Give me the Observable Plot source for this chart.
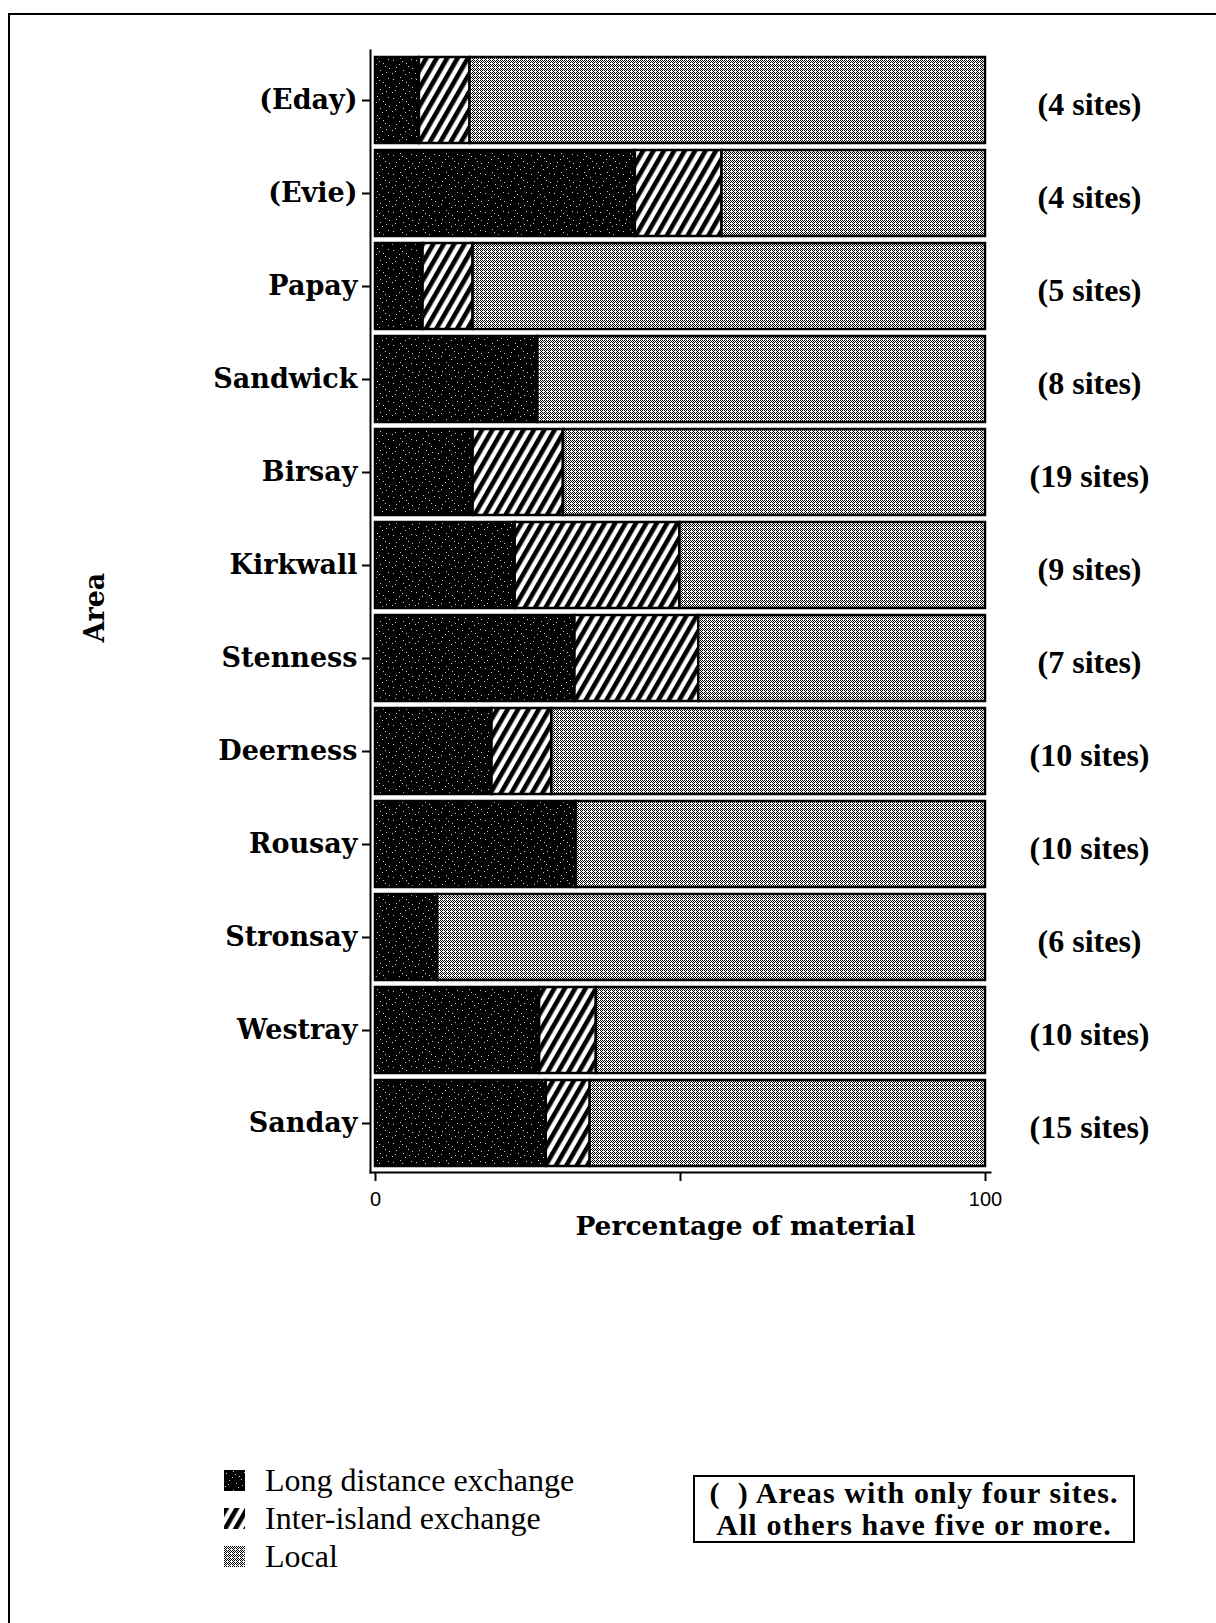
<!DOCTYPE html>
<html>
<head>
<meta charset="utf-8">
<script src="https://cdn.jsdelivr.net/npm/d3@7"></script>
<script src="https://cdn.jsdelivr.net/npm/@observablehq/plot@0.6"></script>
<style>
html, body { margin: 0; padding: 0; background: #fff; }
#page { position: relative; width: 1216px; height: 1623px; overflow: hidden; background: #fff; }
#border { position: absolute; left: 8px; top: 13px; right: -20px; bottom: -20px; border-top: 2px solid #000; border-left: 2px solid #000; pointer-events: none; }
#chart { position: absolute; left: 0; top: 0; }
#legend { position: absolute; left: 224px; top: 1461px; }
#note { position: absolute; left: 693px; top: 1475px; width: 438px; height: 64px; border: 2px solid #000;
  font-family: "Liberation Serif", serif; font-weight: bold; font-size: 30px; line-height: 32px; letter-spacing: 1.1px;
  text-align: center; color: #000; white-space: nowrap; }
.lg-swatches { margin: 0 !important; font-family: "Liberation Serif", serif !important; font-size: 32px !important; color: #000; }
.lg-swatch { line-height: 38px !important; height: 38px; margin: 0 !important; padding: 0 !important; display: flex; align-items: center; }
.lg-swatch > svg { margin-right: 20px !important; }
</style>
</head>
<body>
<div id="page">
  <div id="chart"></div>
  <div id="legend"></div>
  <div id="note">(&nbsp;&nbsp;) Areas with only four sites.<br>All others have five or more.</div>
  <div id="border"></div>
</div>
<script>
// ---- data ----
const areas = ["(Eday)", "(Evie)", "Papay", "Sandwick", "Birsay", "Kirkwall", "Stenness", "Deerness", "Rousay", "Stronsay", "Westray", "Sanday"];
const siteLabels = ["(4 sites)", "(4 sites)", "(5 sites)", "(8 sites)", "(19 sites)", "(9 sites)", "(7 sites)", "(10 sites)", "(10 sites)", "(6 sites)", "(10 sites)", "(15 sites)"];
const types = ["Long distance exchange", "Inter-island exchange", "Local"];
const longDistance = [7.2, 42.6, 7.8, 26.6, 16.0, 22.9, 32.7, 19.1, 32.9, 10.2, 26.9, 28.0];
const interIsland  = [8.3, 14.2, 8.2, 0, 14.8, 27.0, 20.3, 9.8, 0, 0, 9.3, 7.2];
const local        = [84.5, 43.2, 84.0, 73.4, 69.2, 50.1, 47.0, 71.1, 67.1, 89.8, 63.8, 64.8];
const xTicks = [0, 50, 100];
const xTickLabels = ["0", "", "100"];
const xLabel = "Percentage of material";
const yLabel = "Area";

const series = [longDistance, interIsland, local];
const table = areas.flatMap((a, i) => types.map((t, k) => ({area: a, type: t, value: series[k][i]})))
  .filter(d => d.value > 0);
const siteTable = areas.map((a, i) => ({area: a, label: siteLabels[i]}));
const patterns = ["url(#pLong)", "url(#pInter)", "url(#pLocal)"];

const serifBold = {fontFamily: "DejaVu Serif", fontWeight: "bold"};

const chart = Plot.plot({
  width: 1216,
  height: 1270,
  marginLeft: 370,
  marginRight: 226,
  marginTop: 50,
  marginBottom: 98,
  style: {background: "transparent", color: "#000"},
  x: {domain: [0, 100], range: [375, 985]},
  y: {domain: areas, range: [55, 1167], paddingInner: 0.08, paddingOuter: 0, align: 0.5},
  color: {type: "ordinal", domain: types, range: patterns},
  marks: [
    Plot.barX(table, Plot.stackX({x: "value", y: "area", fill: "type", order: types, stroke: "#000", strokeWidth: 2.5})),
    Plot.frame({anchor: "left", stroke: "#000", strokeWidth: 2}),
    Plot.frame({anchor: "bottom", stroke: "#000", strokeWidth: 2}),
    Plot.axisY({tickSize: 8, tickPadding: 5, fontSize: 27, ...serifBold, label: null, strokeWidth: 2}),
    Plot.axisX({ticks: xTicks, tickFormat: (d) => xTickLabels[xTicks.indexOf(d)], tickSize: 9, tickPadding: 10,
      fontSize: 20, fontFamily: "Liberation Sans", label: null, strokeWidth: 2}),
    Plot.text(siteTable, {x: 100, y: "area", text: "label", dx: 104, dy: 4, textAnchor: "middle",
      fontSize: 32, fontFamily: "Liberation Serif", fontWeight: "bold"}),
    Plot.text([yLabel], {frameAnchor: "left", dx: -275, dy: 31, rotate: -90, fontSize: 27, ...serifBold}),
    Plot.text([xLabel], {frameAnchor: "bottom", dx: 65, dy: 62, fontSize: 26.5, ...serifBold})
  ]
});
document.getElementById("chart").appendChild(chart);

// pattern definitions used by the fill scale
const defs = d3.select(chart).insert("defs", ":first-child");
// long distance: black with white speckles
const pl = defs.append("pattern").attr("id", "pLong").attr("patternUnits", "userSpaceOnUse")
  .attr("width", 23).attr("height", 19);
pl.append("rect").attr("width", 23).attr("height", 19).attr("fill", "#000");
[[2,3],[9,1],[15,6],[20,2],[5,10],[12,13],[18,15],[1,16],[8,7],[21,11],[14,17],[4,14],[11,4],[17,9]].forEach(([x, y]) =>
  pl.append("rect").attr("x", x).attr("y", y).attr("width", 1).attr("height", 1).attr("fill", "#fff").attr("opacity", 0.8));
// inter-island: diagonal hatching
const ph = defs.append("pattern").attr("id", "pInter").attr("patternUnits", "userSpaceOnUse")
  .attr("width", 9).attr("height", 9).attr("patternTransform", "rotate(30)");
ph.append("rect").attr("width", 9).attr("height", 9).attr("fill", "#fff");
ph.append("rect").attr("width", 4.6).attr("height", 9).attr("fill", "#000");
// local: fine grey dither
const pc = defs.append("pattern").attr("id", "pLocal").attr("patternUnits", "userSpaceOnUse")
  .attr("width", 4).attr("height", 4);
pc.append("rect").attr("width", 4).attr("height", 4).attr("fill", "#fff");
[[0,0],[2,0],[1,1],[3,1],[0,2],[2,2],[1,3]].forEach(([x, y]) =>
  pc.append("rect").attr("x", x).attr("y", y).attr("width", 1).attr("height", 1).attr("fill", "#000"));

const legend = Plot.legend({
  color: {type: "ordinal", domain: types, range: patterns},
  columns: 1,
  swatchSize: 21,
  className: "lg"
});
document.getElementById("legend").appendChild(legend);
</script>
</body>
</html>
